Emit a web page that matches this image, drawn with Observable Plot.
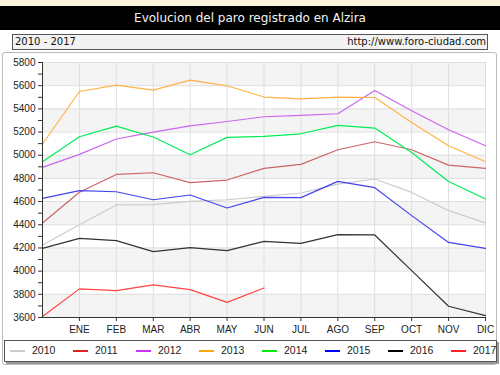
<!DOCTYPE html>
<html><head><meta charset="utf-8">
<script src="https://cdn.jsdelivr.net/npm/d3@7"></script>
<script src="https://cdn.jsdelivr.net/npm/@observablehq/plot@0.6"></script>
<style>
body{margin:0;background:#fff;}
#wrap{position:relative;width:500px;height:375px;overflow:hidden;font-family:"DejaVu Sans",sans-serif;}
#wrap > *{position:absolute;}
#chart{left:0;top:0;}
</style></head>
<body><div id="wrap">
<div style="left:0;top:0;width:500px;height:6px;background:#fcf5dc"></div>
<div style="left:0;top:6px;width:500px;height:24px;background:#000;color:#f4f4f4;font-size:12px;line-height:25px;text-align:center">Evolucion del paro registrado en Alzira</div>
<div style="left:2px;top:52px;width:493px;height:311px;border:1px solid #bbb;border-radius:3px"></div>
<div style="left:12px;top:34px;width:474px;height:14px;background:#f3f3f3;border:1px solid #555;font-size:10px;line-height:14px;color:#111;white-space:nowrap">
  <span style="position:absolute;left:2px">2010 - 2017</span>
  <span style="position:absolute;right:1px">http://www.foro-ciudad.com</span>
</div>
<div id="chart"></div>
<div id="legend" style="left:4px;top:340px;width:491px;height:20px;background:#fff;border:1px solid #555;box-shadow:2px 2px 0 #999;font-family:'Liberation Sans',sans-serif;font-size:10.5px;white-space:nowrap"></div>
</div>
<script>
const months = ["ENE","FEB","MAR","ABR","MAY","JUN","JUL","AGO","SEP","OCT","NOV","DIC"];
const years = ["2010","2011","2012","2013","2014","2015","2016","2017"];
const lineColors = ["#cccccc","#cc6666","#cc66ee","#ffb347","#00ee55","#4444ee","#333333","#ff4444"];
const legendColors = ["#cccccc","#dd2222","#cc33ff","#ffa500","#00ee00","#0000ff","#000000","#ff2222"];
const v2010 = [4225,4400,4571,4573,4602,4616,4645,4674,4750,4795,4679,4522,4416];
const v2011 = [4415,4680,4834,4849,4763,4786,4886,4921,5047,5116,5047,4915,4886];
const v2012 = [4895,5007,5140,5200,5254,5291,5332,5343,5358,5559,5384,5220,5082];
const v2013 = [5097,5550,5605,5562,5648,5599,5502,5487,5502,5498,5283,5082,4944];
const v2014 = [4944,5159,5251,5157,5004,5154,5162,5185,5257,5234,5024,4774,4622];
const v2015 = [4628,4694,4685,4616,4657,4545,4636,4634,4774,4720,4479,4248,4197];
const v2016 = [4197,4283,4263,4168,4203,4177,4257,4240,4315,4312,4004,3697,3616];
const v2017 = [3608,3847,3832,3881,3840,3731,3855];
const series = [v2010,v2011,v2012,v2013,v2014,v2015,v2016,v2017];
const yMin = 3600, yMax = 5800;

const rows = series.flatMap((vals, s) => vals.map((v, i) => ({year: years[s], m: i, v})));
const bands = d3.range(yMin, yMax, 400);

const chart = Plot.plot({
  width: 500, height: 375,
  marginTop: 62, marginBottom: 58, marginLeft: 42, marginRight: 15,
  style: {fontFamily: "'Liberation Sans', sans-serif", fontSize: "10px", color: "#222", background: "transparent"},
  x: {domain: [0, 12], axis: null},
  y: {domain: [yMin, yMax], axis: null},
  color: {domain: years, range: lineColors},
  marks: [
    Plot.rect(bands, {x1: 0, x2: 12, y1: d => d, y2: d => d + 200, fill: "#f4f4f4"}),
    Plot.ruleY(d3.range(yMin, yMax + 1, 200), {stroke: "#dedede"}),
    Plot.ruleX(d3.range(1, 13), {stroke: "#dedede"}),
    Plot.line(rows, {x: "m", y: "v", z: "year", stroke: "year", strokeWidth: 1.2}),
    Plot.ruleX([0], {stroke: "#333"}),
    Plot.ruleY([yMin], {stroke: "#333"}),
    Plot.axisY({ticks: d3.range(yMin, yMax + 1, 100), tickSize: 4, tickPadding: 3, label: null,
      tickFormat: d => d % 200 === 0 ? String(d) : "", stroke: "#333"}),
    Plot.axisX({ticks: d3.range(1, 13), tickSize: 4, tickPadding: 4, label: null,
      tickFormat: i => months[i - 1], stroke: "#333"})
  ]
});
document.getElementById("chart").append(chart);

const leg = document.getElementById("legend");
years.forEach((y, i) => {
  const x = 5 + 63 * i;
  const sw = document.createElement("div");
  sw.style.cssText = `position:absolute;left:${x}px;top:9px;width:15px;height:2px;background:${legendColors[i]}`;
  leg.append(sw);
  const t = document.createElement("span");
  t.textContent = y;
  t.style.cssText = `position:absolute;left:${x + 22}px;top:3px;line-height:13px;color:#222`;
  leg.append(t);
});
</script>
</body></html>
